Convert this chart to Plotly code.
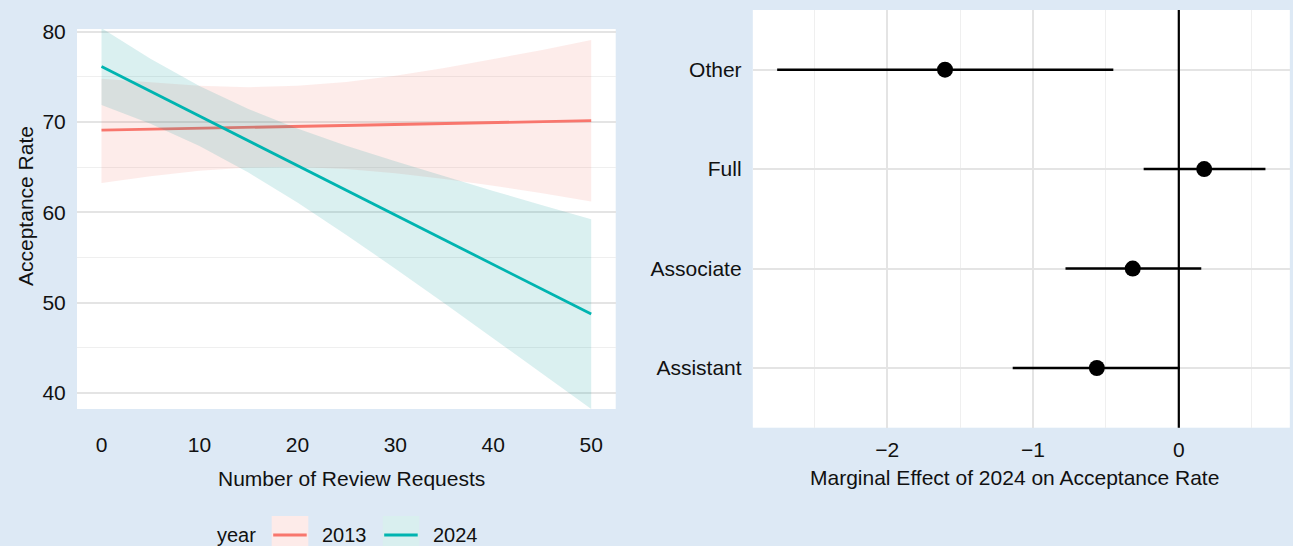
import plotly.graph_objects as go

# ---------------- data: left panel (fitted lines with confidence bands) ----------------
review_requests = [0, 5, 10, 15, 20, 25, 30, 35, 40, 45, 50]

fit_2013 = [69.10, 69.20, 69.31, 69.41, 69.52, 69.62, 69.73, 69.83, 69.94, 70.04, 70.15]
upper_2013 = [74.80, 74.41, 74.01, 73.86, 74.01, 74.44, 75.12, 75.97, 76.93, 77.97, 79.08]
lower_2013 = [63.25, 63.99, 64.61, 64.96, 65.03, 64.80, 64.34, 63.69, 62.95, 62.11, 61.22]

fit_2024 = [76.15, 73.41, 70.67, 67.93, 65.19, 62.45, 59.71, 56.97, 54.23, 51.49, 48.75]
upper_2024 = [80.40, 77.01, 74.00, 71.44, 69.29, 67.39, 65.65, 63.99, 62.38, 60.80, 59.25]
lower_2024 = [71.90, 69.81, 67.34, 64.42, 61.09, 57.51, 53.77, 49.95, 46.08, 42.18, 38.25]

years = ["2013", "2024"]

# ---------------- data: right panel (marginal effects) ----------------
ranks = ["Other", "Full", "Associate", "Assistant"]
effect = [-1.603, 0.174, -0.316, -0.562]
effect_low = [-2.754, -0.241, -0.777, -1.139]
effect_high = [-0.449, 0.594, 0.154, 0.006]
reference_value = 0

left_y_ticks = [40, 50, 60, 70, 80]
left_x_ticks = [0, 10, 20, 30, 40, 50]
right_x_ticks = [-2, -1, 0]

# ---------------- styling ----------------
W, H = 1293, 546
BG = "#dde9f5"
FONT = "Liberation Sans, Arial, Helvetica, sans-serif"
RED = "#F8766D"
TEAL = "#00B4B0"
RED_FILL = "rgba(240,118,106,0.14)"
TEAL_FILL = "rgba(0,150,150,0.145)"
RED_KEY = "#fdebe9"
TEAL_KEY = "#d9efef"
MAJOR_GRID = "#e4e4e4"
MINOR_GRID = "#efefef"


def px(x):
    return x / W


def py(y):
    return 1 - y / H


fig = go.Figure()

series = [
    (fit_2013, upper_2013, lower_2013, RED, RED_FILL),
    (fit_2024, upper_2024, lower_2024, TEAL, TEAL_FILL),
]
for name, (fit, up, lo, col, fill) in zip(years, series):
    fig.add_trace(go.Scatter(
        x=review_requests + review_requests[::-1],
        y=up + lo[::-1],
        fill="toself", fillcolor=fill, mode="lines", line=dict(width=0),
        hoverinfo="skip", showlegend=False, xaxis="x", yaxis="y",
    ))
    fig.add_trace(go.Scatter(
        x=review_requests, y=fit, mode="lines", name=name,
        line=dict(color=col, width=2.8), showlegend=False, xaxis="x", yaxis="y",
    ))

# right panel: point estimates with horizontal intervals
err_plus = [h - e for h, e in zip(effect_high, effect)]
err_minus = [e - l for e, l in zip(effect, effect_low)]
fig.add_trace(go.Scatter(
    x=effect, y=ranks, mode="markers",
    marker=dict(color="black", size=16),
    error_x=dict(type="data", symmetric=False, array=err_plus, arrayminus=err_minus,
                 color="black", thickness=2.5, width=0),
    showlegend=False, xaxis="x2", yaxis="y2",
))

# reference line at zero
fig.add_shape(type="line", xref="x2", yref="y2 domain", x0=reference_value, x1=reference_value,
              y0=0, y1=1, line=dict(color="black", width=2.2), layer="above")

tickfont = dict(family=FONT, size=21, color="#111111")
common = dict(zeroline=False, showline=False, automargin=False, fixedrange=True,
              ticks="outside", tickcolor="rgba(0,0,0,0)", tickfont=tickfont)

fig.update_layout(
    width=W, height=H, autosize=False,
    margin=dict(l=0, r=0, t=0, b=0, pad=0),
    paper_bgcolor=BG, plot_bgcolor="white",
    font=dict(family=FONT, size=21, color="#111111"),
    showlegend=False,
    xaxis=dict(
        domain=[px(77), px(615.7)], range=[-2.5, 52.5], anchor="y",
        tickvals=left_x_ticks, showgrid=False, ticklen=17, **common,
    ),
    yaxis=dict(
        domain=[py(409), py(29)], range=[38.24, 80.30], anchor="x",
        tickvals=left_y_ticks, showgrid=True, gridcolor=MAJOR_GRID, gridwidth=2,
        minor=dict(dtick=5, tick0=0, showgrid=True, gridcolor=MINOR_GRID, gridwidth=1.2),
        ticklen=6, **common,
    ),
    xaxis2=dict(
        domain=[px(752.8), px(1289.8)], range=[-2.921, 0.761], anchor="y2",
        tickvals=right_x_ticks, showgrid=True, gridcolor=MAJOR_GRID, gridwidth=2,
        minor=dict(dtick=0.5, tick0=0, showgrid=True, gridcolor=MINOR_GRID, gridwidth=1.2),
        ticklen=3, **common,
    ),
    yaxis2=dict(
        domain=[py(427.7), py(10)], anchor="x2",
        type="category", categoryorder="array", categoryarray=ranks[::-1],
        range=[-0.6, 3.6], showgrid=True, gridcolor=MAJOR_GRID, gridwidth=2,
        ticklen=6, **common,
    ),
)

title_font = dict(family=FONT, size=21, color="#111111")
annotations = [
    dict(text="Acceptance Rate", x=px(25), y=py(206), textangle=-90),
    dict(text="Number of Review Requests", x=px(351), y=py(478)),
    dict(text="Marginal Effect of 2024 on Acceptance Rate", x=px(1014), y=py(477)),
]
for a in annotations:
    fig.add_annotation(xref="paper", yref="paper", showarrow=False,
                       xanchor="center", yanchor="middle", font=title_font, **a)

# legend (drawn manually to mimic ggplot keys)
leg_font = dict(family=FONT, size=20, color="#111111")
fig.add_annotation(xref="paper", yref="paper", showarrow=False, text="year",
                   x=px(215), y=py(535), xanchor="left", yanchor="middle", font=leg_font)
keys = [(271.7, RED_KEY, RED, years[0], 320), (382.7, TEAL_KEY, TEAL, years[1], 431)]
for kx, kfill, kcol, label, tx in keys:
    fig.add_shape(type="rect", xref="paper", yref="paper",
                  x0=px(kx), x1=px(kx + 36.6), y0=py(516), y1=py(553),
                  fillcolor=kfill, line=dict(width=0), layer="below")
    fig.add_shape(type="line", xref="paper", yref="paper",
                  x0=px(kx + 1.5), x1=px(kx + 35), y0=py(535), y1=py(535),
                  line=dict(color=kcol, width=3))
    fig.add_annotation(xref="paper", yref="paper", showarrow=False, text=label,
                       x=px(tx), y=py(535), xanchor="left", yanchor="middle", font=leg_font)

fig.write_html("out.html", config={"displayModeBar": False},
               post_script="document.body.style.margin='0';document.body.style.overflow='hidden';")
